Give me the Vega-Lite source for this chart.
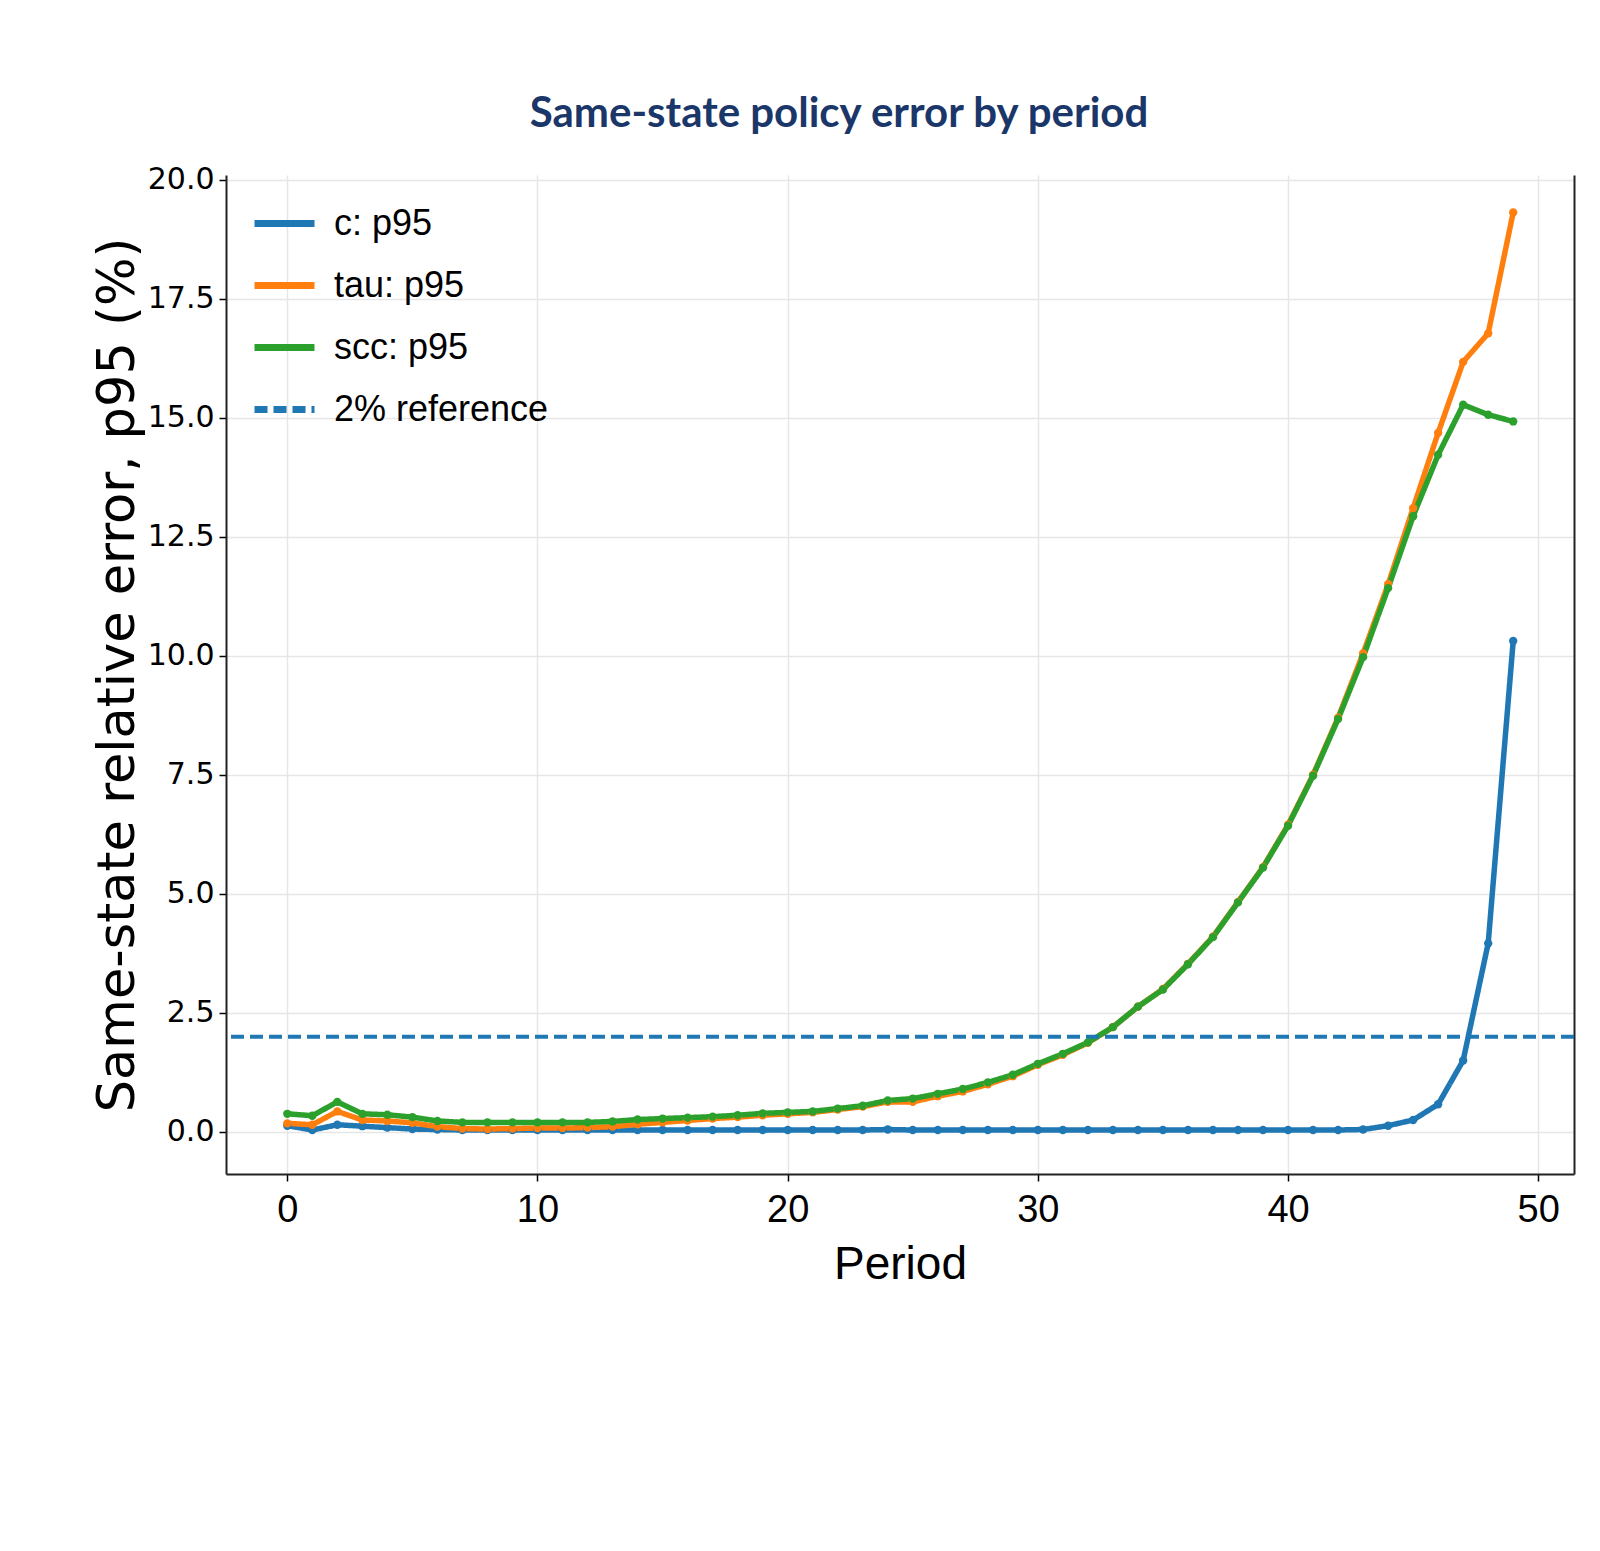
{
  "$schema": "https://vega.github.io/schema/vega-lite/v6.json",
  "width": 1348,
  "height": 999,
  "autosize": {"type": "none"},
  "padding": {"left": 226, "top": 175, "right": 26, "bottom": 377},
  "background": "white",
  "title": {
    "text": "Same-state policy error by period",
    "anchor": "middle",
    "frame": "group",
    "dx": -61,
    "dy": 48,
    "offset": 44,
    "baseline": "alphabetic",
    "font": "Lato",
    "fontSize": 42,
    "fontWeight": "bold",
    "color": "#1b3668"
  },
  "config": {
    "view": {"stroke": null},
    "axis": {
      "grid": true,
      "gridColor": "#e6e6e6",
      "gridWidth": 1.5,
      "tickColor": "#000000",
      "tickSize": 7,
      "tickWidth": 1.5,
      "domainColor": "#222222",
      "domainWidth": 2,
      "labelColor": "#000000",
      "titleColor": "#000000",
      "titleFontWeight": "normal"
    }
  },
  "datasets": {
    "errors": [
      {"period": 0, "series": "c: p95", "error": 0.13},
      {"period": 1, "series": "c: p95", "error": 0.04},
      {"period": 2, "series": "c: p95", "error": 0.15},
      {"period": 3, "series": "c: p95", "error": 0.12},
      {"period": 4, "series": "c: p95", "error": 0.09},
      {"period": 5, "series": "c: p95", "error": 0.06},
      {"period": 6, "series": "c: p95", "error": 0.05},
      {"period": 7, "series": "c: p95", "error": 0.04},
      {"period": 8, "series": "c: p95", "error": 0.04},
      {"period": 9, "series": "c: p95", "error": 0.04},
      {"period": 10, "series": "c: p95", "error": 0.04},
      {"period": 11, "series": "c: p95", "error": 0.04},
      {"period": 12, "series": "c: p95", "error": 0.04},
      {"period": 13, "series": "c: p95", "error": 0.04},
      {"period": 14, "series": "c: p95", "error": 0.04},
      {"period": 15, "series": "c: p95", "error": 0.04},
      {"period": 16, "series": "c: p95", "error": 0.04},
      {"period": 17, "series": "c: p95", "error": 0.04},
      {"period": 18, "series": "c: p95", "error": 0.04},
      {"period": 19, "series": "c: p95", "error": 0.04},
      {"period": 20, "series": "c: p95", "error": 0.04},
      {"period": 21, "series": "c: p95", "error": 0.04},
      {"period": 22, "series": "c: p95", "error": 0.04},
      {"period": 23, "series": "c: p95", "error": 0.04},
      {"period": 24, "series": "c: p95", "error": 0.05},
      {"period": 25, "series": "c: p95", "error": 0.04},
      {"period": 26, "series": "c: p95", "error": 0.04},
      {"period": 27, "series": "c: p95", "error": 0.04},
      {"period": 28, "series": "c: p95", "error": 0.04},
      {"period": 29, "series": "c: p95", "error": 0.04},
      {"period": 30, "series": "c: p95", "error": 0.04},
      {"period": 31, "series": "c: p95", "error": 0.04},
      {"period": 32, "series": "c: p95", "error": 0.04},
      {"period": 33, "series": "c: p95", "error": 0.04},
      {"period": 34, "series": "c: p95", "error": 0.04},
      {"period": 35, "series": "c: p95", "error": 0.04},
      {"period": 36, "series": "c: p95", "error": 0.04},
      {"period": 37, "series": "c: p95", "error": 0.04},
      {"period": 38, "series": "c: p95", "error": 0.04},
      {"period": 39, "series": "c: p95", "error": 0.04},
      {"period": 40, "series": "c: p95", "error": 0.04},
      {"period": 41, "series": "c: p95", "error": 0.04},
      {"period": 42, "series": "c: p95", "error": 0.04},
      {"period": 43, "series": "c: p95", "error": 0.05},
      {"period": 44, "series": "c: p95", "error": 0.13},
      {"period": 45, "series": "c: p95", "error": 0.25},
      {"period": 46, "series": "c: p95", "error": 0.58},
      {"period": 47, "series": "c: p95", "error": 1.5},
      {"period": 48, "series": "c: p95", "error": 3.96},
      {"period": 49, "series": "c: p95", "error": 10.31},
      {"period": 0, "series": "tau: p95", "error": 0.18},
      {"period": 1, "series": "tau: p95", "error": 0.15},
      {"period": 2, "series": "tau: p95", "error": 0.43},
      {"period": 3, "series": "tau: p95", "error": 0.25},
      {"period": 4, "series": "tau: p95", "error": 0.23},
      {"period": 5, "series": "tau: p95", "error": 0.19},
      {"period": 6, "series": "tau: p95", "error": 0.11},
      {"period": 7, "series": "tau: p95", "error": 0.07},
      {"period": 8, "series": "tau: p95", "error": 0.06},
      {"period": 9, "series": "tau: p95", "error": 0.07},
      {"period": 10, "series": "tau: p95", "error": 0.08},
      {"period": 11, "series": "tau: p95", "error": 0.08},
      {"period": 12, "series": "tau: p95", "error": 0.09},
      {"period": 13, "series": "tau: p95", "error": 0.11},
      {"period": 14, "series": "tau: p95", "error": 0.16},
      {"period": 15, "series": "tau: p95", "error": 0.2},
      {"period": 16, "series": "tau: p95", "error": 0.24},
      {"period": 17, "series": "tau: p95", "error": 0.28},
      {"period": 18, "series": "tau: p95", "error": 0.31},
      {"period": 19, "series": "tau: p95", "error": 0.35},
      {"period": 20, "series": "tau: p95", "error": 0.38},
      {"period": 21, "series": "tau: p95", "error": 0.41},
      {"period": 22, "series": "tau: p95", "error": 0.47},
      {"period": 23, "series": "tau: p95", "error": 0.53},
      {"period": 24, "series": "tau: p95", "error": 0.63},
      {"period": 25, "series": "tau: p95", "error": 0.63},
      {"period": 26, "series": "tau: p95", "error": 0.75},
      {"period": 27, "series": "tau: p95", "error": 0.85},
      {"period": 28, "series": "tau: p95", "error": 1.0},
      {"period": 29, "series": "tau: p95", "error": 1.17},
      {"period": 30, "series": "tau: p95", "error": 1.41},
      {"period": 31, "series": "tau: p95", "error": 1.62},
      {"period": 32, "series": "tau: p95", "error": 1.87},
      {"period": 33, "series": "tau: p95", "error": 2.2},
      {"period": 34, "series": "tau: p95", "error": 2.63},
      {"period": 35, "series": "tau: p95", "error": 3.0},
      {"period": 36, "series": "tau: p95", "error": 3.53},
      {"period": 37, "series": "tau: p95", "error": 4.1},
      {"period": 38, "series": "tau: p95", "error": 4.83},
      {"period": 39, "series": "tau: p95", "error": 5.56},
      {"period": 40, "series": "tau: p95", "error": 6.45},
      {"period": 41, "series": "tau: p95", "error": 7.5},
      {"period": 42, "series": "tau: p95", "error": 8.7},
      {"period": 43, "series": "tau: p95", "error": 10.05},
      {"period": 44, "series": "tau: p95", "error": 11.5},
      {"period": 45, "series": "tau: p95", "error": 13.1},
      {"period": 46, "series": "tau: p95", "error": 14.68},
      {"period": 47, "series": "tau: p95", "error": 16.17},
      {"period": 48, "series": "tau: p95", "error": 16.77},
      {"period": 49, "series": "tau: p95", "error": 19.31},
      {"period": 0, "series": "scc: p95", "error": 0.38},
      {"period": 1, "series": "scc: p95", "error": 0.34},
      {"period": 2, "series": "scc: p95", "error": 0.63},
      {"period": 3, "series": "scc: p95", "error": 0.38},
      {"period": 4, "series": "scc: p95", "error": 0.36},
      {"period": 5, "series": "scc: p95", "error": 0.31},
      {"period": 6, "series": "scc: p95", "error": 0.23},
      {"period": 7, "series": "scc: p95", "error": 0.2},
      {"period": 8, "series": "scc: p95", "error": 0.2},
      {"period": 9, "series": "scc: p95", "error": 0.2},
      {"period": 10, "series": "scc: p95", "error": 0.2},
      {"period": 11, "series": "scc: p95", "error": 0.2},
      {"period": 12, "series": "scc: p95", "error": 0.2},
      {"period": 13, "series": "scc: p95", "error": 0.22},
      {"period": 14, "series": "scc: p95", "error": 0.26},
      {"period": 15, "series": "scc: p95", "error": 0.28},
      {"period": 16, "series": "scc: p95", "error": 0.3},
      {"period": 17, "series": "scc: p95", "error": 0.32},
      {"period": 18, "series": "scc: p95", "error": 0.35},
      {"period": 19, "series": "scc: p95", "error": 0.39},
      {"period": 20, "series": "scc: p95", "error": 0.41},
      {"period": 21, "series": "scc: p95", "error": 0.43},
      {"period": 22, "series": "scc: p95", "error": 0.49},
      {"period": 23, "series": "scc: p95", "error": 0.55},
      {"period": 24, "series": "scc: p95", "error": 0.66},
      {"period": 25, "series": "scc: p95", "error": 0.7},
      {"period": 26, "series": "scc: p95", "error": 0.8},
      {"period": 27, "series": "scc: p95", "error": 0.9},
      {"period": 28, "series": "scc: p95", "error": 1.04},
      {"period": 29, "series": "scc: p95", "error": 1.2},
      {"period": 30, "series": "scc: p95", "error": 1.43},
      {"period": 31, "series": "scc: p95", "error": 1.64},
      {"period": 32, "series": "scc: p95", "error": 1.88},
      {"period": 33, "series": "scc: p95", "error": 2.2},
      {"period": 34, "series": "scc: p95", "error": 2.63},
      {"period": 35, "series": "scc: p95", "error": 2.99},
      {"period": 36, "series": "scc: p95", "error": 3.52},
      {"period": 37, "series": "scc: p95", "error": 4.09},
      {"period": 38, "series": "scc: p95", "error": 4.82},
      {"period": 39, "series": "scc: p95", "error": 5.55},
      {"period": 40, "series": "scc: p95", "error": 6.43},
      {"period": 41, "series": "scc: p95", "error": 7.48},
      {"period": 42, "series": "scc: p95", "error": 8.67},
      {"period": 43, "series": "scc: p95", "error": 9.97},
      {"period": 44, "series": "scc: p95", "error": 11.42},
      {"period": 45, "series": "scc: p95", "error": 12.93},
      {"period": 46, "series": "scc: p95", "error": 14.22},
      {"period": 47, "series": "scc: p95", "error": 15.27},
      {"period": 48, "series": "scc: p95", "error": 15.06},
      {"period": 49, "series": "scc: p95", "error": 14.92}
    ],
    "reference": [
      {"series": "2% reference", "error": 2}
    ]
  },
  "layer": [
    {
      "data": {"name": "errors"},
      "mark": {"type": "line", "strokeWidth": 5.5, "point": {"size": 70, "filled": true}},
      "encoding": {
        "x": {
          "field": "period",
          "type": "quantitative",
          "scale": {"domain": [-2.45, 51.43], "nice": false, "zero": false},
          "axis": {
            "values": [0, 10, 20, 30, 40, 50],
            "format": "d",
            "title": "Period",
            "labelFont": "Liberation Sans",
            "labelFontSize": 38,
            "labelPadding": 10,
            "titleFont": "Liberation Sans",
            "titleFontSize": 46,
            "titlePadding": 13
          }
        },
        "y": {
          "field": "error",
          "type": "quantitative",
          "scale": {"domain": [-0.884, 20.095], "nice": false, "zero": false},
          "axis": {
            "values": [0, 2.5, 5, 7.5, 10, 12.5, 15, 17.5, 20],
            "format": ".1f",
            "title": "Same-state relative error, p95 (%)",
            "labelFont": "DejaVu Sans",
            "labelFontSize": 30,
            "labelPadding": 5,
            "titleFont": "DejaVu Sans",
            "titleFontSize": 51,
            "titlePadding": 3
          }
        },
        "color": {
          "field": "series",
          "type": "nominal",
          "title": null,
          "scale": {
            "domain": ["c: p95", "tau: p95", "scc: p95", "2% reference"],
            "range": ["#1f77b4", "#ff7f0e", "#2ca02c", "#1f77b4"]
          },
          "legend": {
            "orient": "none",
            "legendX": 25,
            "legendY": 15,
            "padding": 0,
            "symbolType": "stroke",
            "symbolSize": 3600,
            "symbolStrokeWidth": 7,
            "labelFont": "Liberation Sans",
            "labelFontSize": 36,
            "labelColor": "#000000",
            "labelOffset": 16,
            "rowPadding": 10,
            "labelLimit": 400
          }
        },
        "strokeDash": {
          "field": "series",
          "type": "nominal",
          "title": null,
          "scale": {
            "domain": ["c: p95", "tau: p95", "scc: p95", "2% reference"],
            "range": [[1, 0], [1, 0], [1, 0], [13, 6]]
          }
        }
      }
    },
    {
      "data": {"name": "reference"},
      "mark": {"type": "rule", "strokeWidth": 4},
      "encoding": {
        "y": {
          "field": "error",
          "type": "quantitative",
          "axis": {
            "orient": "right",
            "labels": false,
            "ticks": false,
            "grid": false,
            "title": null,
            "domain": true
          }
        },
        "color": {"field": "series", "type": "nominal", "title": null},
        "strokeDash": {"field": "series", "type": "nominal", "title": null}
      }
    }
  ],
  "resolve": {"axis": {"y": "independent"}}
}
